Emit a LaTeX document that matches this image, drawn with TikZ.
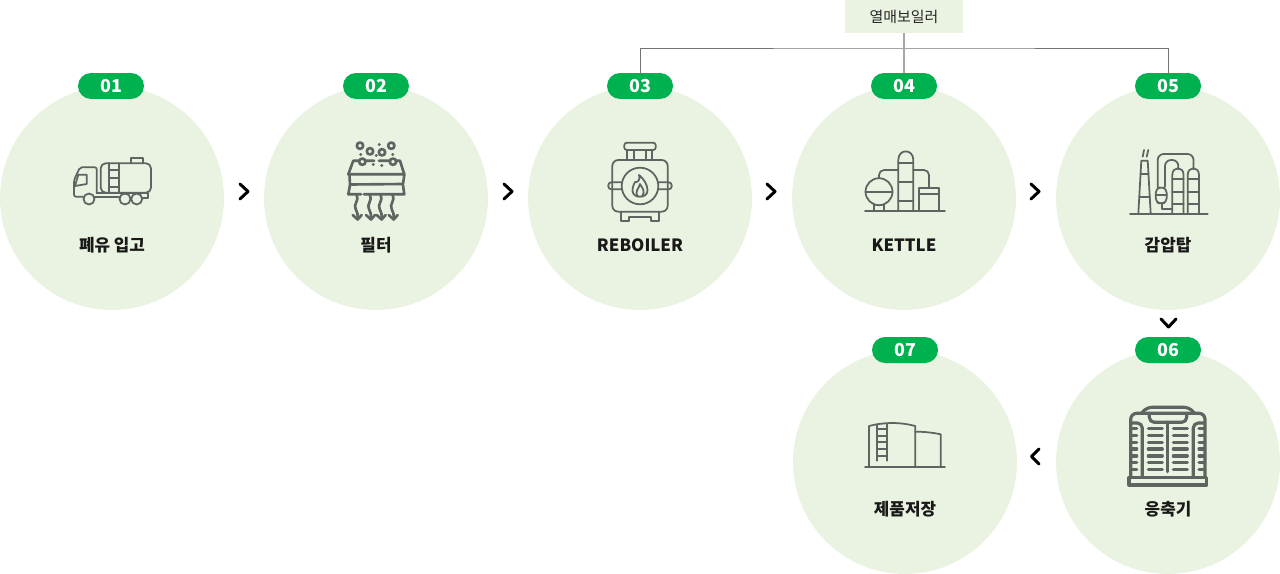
\documentclass[tikz,border=0pt]{standalone}
\usepackage{fontspec}
\setmainfont{Noto Sans CJK KR}
\definecolor{circlegreen}{HTML}{EAF3E1}
\definecolor{badgegreen}{HTML}{00B14F}
\definecolor{iconcolor}{HTML}{5F6361}
\tikzset{
	stage/.style={circle, fill=circlegreen, minimum size=4.48cm, inner sep=0pt},
	badge/.style={fill=badgegreen, text=white, rounded corners=0.26cm, minimum width=1.32cm, minimum height=0.52cm, inner sep=0pt, font=\fontsize{10.2}{10}\selectfont\bfseries},
	caption/.style={text=black!90, font=\fontsize{9.6}{10}\selectfont\bfseries, inner sep=0pt},
	heatbox/.style={fill=circlegreen, text=black!85, minimum width=2.36cm, minimum height=0.66cm, inner sep=0pt, font=\fontsize{8.5}{10}\selectfont},
	chevron/.style={draw=black, line width=1.7pt, line cap=round, line join=round},
	link/.style={draw=black!55, line width=0.55pt},
	icon/.style={draw=iconcolor, line width=1pt, line join=round, line cap=round},
	filtericon/.style={draw=iconcolor, line width=1.5pt, line join=round, line cap=round},
	thickicon/.style={draw=iconcolor, line width=1.8pt, line join=round, line cap=round},
}
\begin{document}
\begin{tikzpicture}[x=0.02cm, y=-0.02cm]
		%%%%% START %%%%%
		\useasboundingbox (0, 0) rectangle (1280, 574);
		
		\node[stage] (s1) at (112, 198) {};
		\node[stage] (s2) at (376, 198) {};
		\node[stage] (s3) at (640, 198) {};
		\node[stage] (s4) at (904, 198) {};
		\node[stage] (s5) at (1168, 198) {};
		\node[stage] (s6) at (1168, 462) {};
		\node[stage] (s7) at (905, 462) {};
		
		\node[badge] (b1) at (111, 86) {01};
		\node[badge] (b2) at (376, 86) {02};
		\node[badge] (b3) at (640, 86) {03};
		\node[badge] (b4) at (904, 86) {04};
		\node[badge] (b5) at (1168, 86) {05};
		\node[badge] (b6) at (1168, 350) {06};
		\node[badge] (b7) at (905, 350) {07};
		
		\node[caption] (c1) at (112, 245) {폐유 입고};
		\node[caption] (c2) at (376, 245) {필터};
		\node[caption] (c3) at (640, 245) {REBOILER};
		\node[caption] (c4) at (904, 245) {KETTLE};
		\node[caption] (c5) at (1168, 245) {감압탑};
		\node[caption] (c6) at (1168, 509) {응축기};
		\node[caption] (c7) at (905, 509) {제품저장};
		
		\node[heatbox] (heat) at (904, 16.5) {열매보일러};
		\coordinate (tee) at (904, 48);
		\draw[link] (b3.north) |- (tee) -| (b5.north);
		\draw[link, draw=black!35, line width=0.8pt] (heat.south) -- (b4.north);
		
		% chevrons
		\foreach \x in {244, 508, 771, 1035}
			\draw[chevron] (\x-4, 184) -- (\x+4, 191.5) -- (\x-4, 199);
		\draw[chevron] (1161, 319) -- (1168.5, 327) -- (1176, 319);
		\draw[chevron] (1039, 449) -- (1031.5, 456.5) -- (1039, 464);
		
		% truck
		\draw[icon, rounded corners=0.1cm] (100.7, 163.3) rectangle (151, 192.7);
		\draw[icon] (109.3, 163.3) -- (109.3, 192.7) (119, 163.3) -- (119, 192.7);
		\draw[icon] (109.3, 170) -- (119, 170) (109.3, 178.3) -- (119, 178.3) (109.3, 186.7) -- (119, 186.7);
		\draw[icon] (131, 163.3) -- (131, 158.3) -- (143.3, 158.3) -- (143.3, 163.3);
		\draw[icon, rounded corners=0.04cm] (96.7, 192.7) -- (96.7, 167.3) -- (80, 167.3) -- (74, 180) -- (74, 196.7) -- (83.3, 196.7);
		\draw[icon] (94.5, 196.7) -- (119.5, 196.7) (96.7, 192.7) -- (148.3, 192.7) -- (148.3, 198.3) -- (142, 198.3);
		\draw[icon] (86.7, 174.7) -- (78.3, 174.7) -- (75, 186) -- (86.7, 184) -- cycle;
		\draw[icon] (89, 199) circle (5.5) (125, 199) circle (5.5) (136.7, 199) circle (5.5);
		
		% filter
		\draw[filtericon] (360, 145.7) circle (3.2) (370, 151.3) circle (3.2) (382, 152.3) circle (3.2) (391.3, 145.7) circle (3.2) (362.3, 161.7) circle (3.2) (393, 161.7) circle (3.2);
		\draw[filtericon] (379, 144.7) -- (379.5, 144.7) (360.5, 154.7) -- (361, 154.7) (376, 155.7) -- (376.5, 155.7) (392.5, 154.7) -- (393, 154.7) (373, 164.7) -- (373.5, 164.7) (381.5, 165.3) -- (382, 165.3);
		\draw[filtericon] (359, 160.7) -- (353.3, 160.7) -- (348.3, 174.3) -- (404.3, 174.3) -- (400, 160.7) -- (396, 160.7) (366, 160.7) -- (374, 160.7) (379, 160.7) -- (390, 160.7);
		\draw[filtericon] (349.5, 175) -- (350, 184.5) -- (403, 184) -- (404.3, 175);
		\draw[filtericon] (350, 185) -- (348.3, 194.3) -- (361, 194.3) (364, 194.3) -- (404.3, 194.3) -- (403, 185);
		\foreach \x in {356.7, 370, 380.7, 392.7} {
			\draw[filtericon] (\x, 195) .. controls (\x+3, 200) and (\x-4, 205) .. (\x-1, 209) .. controls (\x+1, 212) and (\x+1, 215) .. (\x+1, 219);
			\draw[filtericon] (\x-4, 215) -- (\x+1, 219.5) -- (\x+5, 215);
		}
		
		% reboiler
		\draw[icon, rounded corners=0.05cm] (624.3, 142.7) rectangle (655.7, 150);
		\draw[icon] (627.3, 150) -- (627.3, 160) (634, 150) -- (634, 160) (646, 150) -- (646, 160) (652.3, 150) -- (652.3, 160);
		\draw[icon, rounded corners=0.12cm] (612.3, 160) rectangle (667.7, 211.7);
		\draw[icon, fill=circlegreen] (640, 186) circle (18.3);
		\draw[icon, rounded corners=0.06cm] (622, 182.3) -- (608.3, 182.3) -- (608.3, 189.3) -- (622, 189.3);
		\draw[icon, rounded corners=0.06cm] (658, 182.3) -- (671.7, 182.3) -- (671.7, 189.3) -- (658, 189.3);
		\draw[icon] (621, 211.7) -- (621, 220.7) -- (629.3, 220.7) -- (629.3, 217.3) -- (650.7, 217.3) -- (650.7, 220.7) -- (659, 220.7) -- (659, 211.7);
		\draw[icon] (639, 175) .. controls (641, 180) and (637, 183) .. (635, 182) .. controls (633, 186) and (632, 189) .. (632.5, 191) .. controls (633, 195) and (636, 196.7) .. (640, 196.7) .. controls (645, 196.7) and (647.5, 194) .. (647.5, 190) .. controls (647.5, 185) and (644, 179) .. (639, 175) -- cycle;
		\draw[icon] (638, 196.5) .. controls (634, 191) and (639, 189) .. (640, 184) .. controls (642, 188) and (646, 191) .. (642, 196.5);
		
		% kettle
		\draw[icon] (865, 211) -- (945, 211);
		\draw[icon] (879, 191.7) circle (13.5);
		\draw[icon] (865.5, 191.7) -- (892.5, 191.7);
		\draw[icon] (874, 204) -- (874, 211) (884, 204) -- (884, 211);
		\draw[icon, rounded corners=0.1cm] (879, 178.2) -- (879, 170) -- (898.3, 170);
		\draw[icon] (898.3, 211) -- (898.3, 160) .. controls (898.3, 148.5) and (913.3, 148.5) .. (913.3, 160) -- (913.3, 211);
		\draw[icon] (898.3, 162.7) -- (913.3, 162.7) (898.3, 181.7) -- (913.3, 181.7) (898.3, 200.7) -- (913.3, 200.7);
		\draw[icon, rounded corners=0.1cm] (913.3, 170) -- (929, 170) -- (929, 187.7);
		\draw[icon] (919, 211) -- (919, 187.7) -- (938.7, 187.7) -- (938.7, 211) (919, 194) -- (938.7, 194);
		
		% tower
		\draw[icon] (1130, 214) -- (1207.7, 214);
		\draw[icon] (1138.3, 214) -- (1141.3, 160.7) -- (1147.7, 160.7) -- (1150.7, 214);
		\draw[icon] (1140.5, 174) -- (1148.5, 174) (1139.5, 197.3) -- (1150, 197.3);
		\draw[icon] (1142.7, 156.7) -- (1144, 150) (1146.7, 156.7) -- (1148.3, 150);
		\draw[icon, rounded corners=0.12cm] (1193.5, 169.3) -- (1193.5, 154) -- (1157.7, 154) -- (1157.7, 186.7);
		\draw[icon, rounded corners=0.12cm] (1165, 186.7) -- (1165, 160) -- (1178.3, 160) -- (1178.3, 169.3);
		\draw[icon, rounded corners=0.08cm] (1155.7, 189) -- (1161, 186.7) -- (1166.7, 189) -- (1166.7, 202) -- (1161, 204) -- (1155.7, 202) -- cycle;
		\draw[icon] (1155.7, 195) -- (1166.7, 195);
		\draw[icon] (1161.7, 204) -- (1161.7, 209) -- (1172.3, 209);
		\foreach \x in {1172.3, 1187.7} {
			\draw[icon] (\x, 214) -- (\x, 175) .. controls (\x, 166) and (\x+11.3, 166) .. (\x+11.3, 175) -- (\x+11.3, 214);
			\draw[icon] (\x, 179.3) -- (\x+11.3, 179.3) (\x, 191.7) -- (\x+11.3, 191.7) (\x, 204) -- (\x+11.3, 204);
		}
		
		% condenser
		\draw[thickicon] (1129, 477.3) rectangle (1206.7, 485);
		\draw[thickicon, rounded corners=0.12cm] (1130.7, 477.3) -- (1130.7, 413.3) -- (1205, 413.3) -- (1205, 477.3);
		\draw[thickicon, rounded corners=0.1cm] (1142.3, 412.3) -- (1147, 407.3) -- (1189, 407.3) -- (1193.7, 412.3);
		\draw[thickicon, rounded corners=0.1cm] (1149.3, 413.3) -- (1149.3, 422.3) -- (1186.7, 422.3) -- (1186.7, 413.3);
		\draw[thickicon, rounded corners=0.1cm] (1142.3, 477.3) -- (1142.3, 423) -- (1131.5, 423);
		\draw[thickicon, rounded corners=0.1cm] (1193.3, 477.3) -- (1193.3, 423) -- (1204, 423);
		\draw[thickicon] (1167.7, 422.3) -- (1167.7, 471.7);
		\foreach \y in {428.3, 435.3, 442.3, 449, 456, 462.7, 469.7} {
			\draw[thickicon] (1148.3, \y) -- (1162.3, \y) (1173.3, \y) -- (1187.3, \y);
			\draw[thickicon] (1131.7, \y) -- (1136.7, \y) (1199, \y) -- (1204, \y);
		}
		
		% tank
		\draw[icon] (865, 466.7) -- (945, 466.7);
		\draw[icon] (869, 466.7) -- (869, 426) .. controls (885, 422) and (900, 422) .. (915.3, 426) -- (915.3, 466.7);
		\draw[icon] (915.3, 431.7) .. controls (924, 431.7) and (932, 432.5) .. (940.7, 434.3) -- (940.7, 466.7);
		\draw[icon] (877.3, 424.3) -- (877.3, 460.7) (887.3, 424) -- (887.3, 460.7);
		\foreach \y in {429, 435.7, 442.3, 449, 455.7}
			\draw[icon] (877.3, \y) -- (887.3, \y);
		
		%%%%% END %%%%%
	\end{tikzpicture}
\end{document}
